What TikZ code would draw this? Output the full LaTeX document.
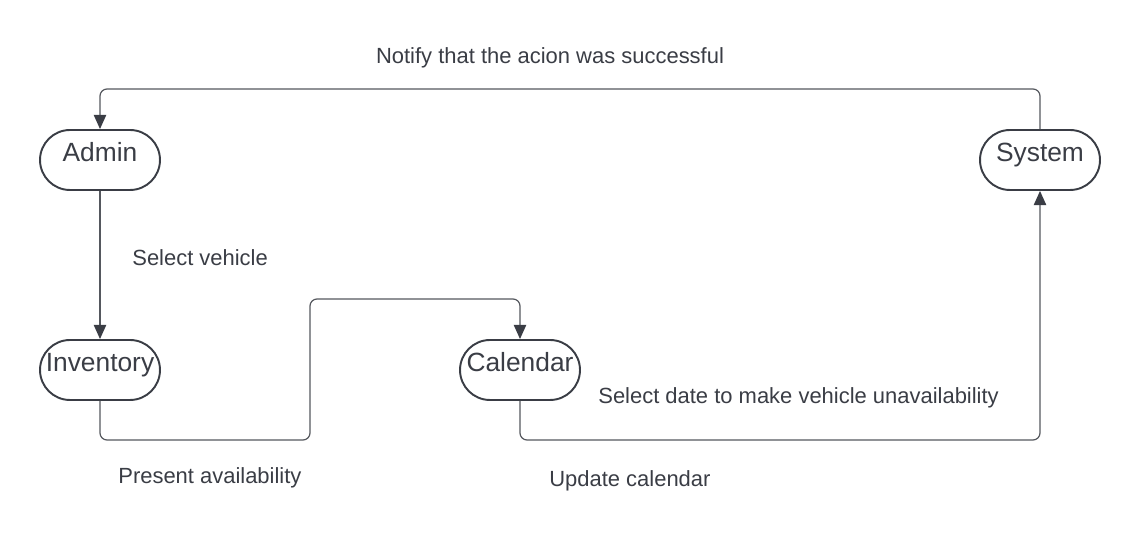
\documentclass[tikz,border=0pt]{standalone}
\usepackage{fontspec}
\setmainfont{Liberation Sans}
\usetikzlibrary{arrows.meta}
\definecolor{inkdark}{HTML}{3A3D45}
\definecolor{wiregray}{HTML}{55585E}
\begin{document}
\begin{tikzpicture}[x=0.02cm,y=-0.02cm]
  \tikzset{
    actor/.style={draw=inkdark,line width=1.1pt,rectangle,rounded corners=0.6cm,
      minimum width=2.4cm,minimum height=1.2cm,inner sep=0pt,
      text height=0.4cm,text depth=0.32cm,text=inkdark,font=\fontsize{15}{18}\selectfont},
    flow/.style={-{Triangle[width=7pt,length=8pt,color=inkdark]},draw=wiregray,line width=0.7pt,
      rounded corners=4pt},
    note/.style={text=inkdark,font=\fontsize{12.5}{15}\selectfont,inner sep=0pt},
  }
  \useasboundingbox (0,0) rectangle (1140,540);
  \node[actor] (admin)    at (100,160)  {Admin};
  \node[actor] (inv)      at (100,370)  {Inventory};
  \node[actor] (cal)      at (520,370)  {Calendar};
  \node[actor] (sys)      at (1040,160) {System};
  \draw[flow] (sys.north) -- (1040,89) -- (100,89) -- (admin.north);
  \draw[flow] (admin.south) -- (inv.north);
  \draw[flow] (inv.south) -- (100,440) -- (310,440) -- (310,299) -- (520,299) -- (cal.north);
  \draw[flow] (cal.south) -- (520,440) -- (1040,440) -- (sys.south);
  \node[note] (nnotify) at (550,58)           {Notify that the acion was successful};
  \node[note,anchor=west] (nselect) at (132,258) {Select vehicle};
  \node[note,anchor=west] (npresent) at (118,478) {Present availability};
  \node[note,anchor=west] (ndate) at (598,398)   {Select date to make vehicle unavailability};
  \node[note,anchor=west] (nupdate) at (549,481) {Update calendar};
\end{tikzpicture}
\end{document}
